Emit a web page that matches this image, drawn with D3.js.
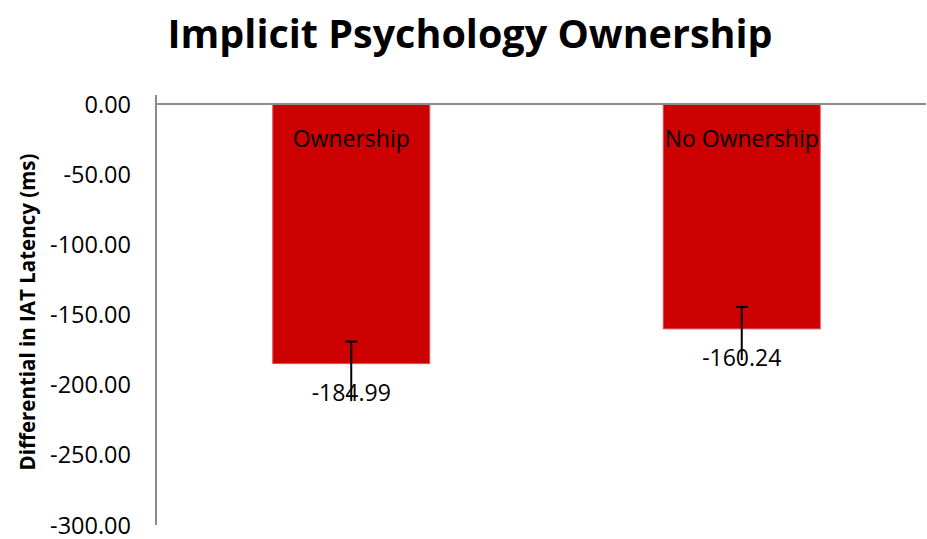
<!DOCTYPE html>
<html lang="en">
    <head>
        <meta charset="utf-8">
        <title>Implicit Psychology Ownership</title>
        <style type="text/css">
            body { margin: 0; background: #fff; }
            text { font-family: "Open Sans", sans-serif; fill: #000; }
            text.title { font-size: 39.5px; font-weight: bold; }
            text.tick { font-size: 23.5px; }
            text.AxisTitle { font-size: 20.5px; font-weight: bold; }
            text.barLabel { font-size: 23px; }
        </style>
    </head>
    <body>
        <script src="https://cdnjs.cloudflare.com/ajax/libs/d3/7.8.5/d3.min.js"></script>
        <script type="text/javascript">

          // chart data
          const categories = ["Ownership", "No Ownership"];
          const values = [-184.99, -160.24];
          const errUpper = [-169.3, -144.6];
          const errLower = [-211.7, -182.5];
          const yTicks = [0, -50, -100, -150, -200, -250, -300];

          const width = 927, height = 539;

          var svg = d3.select("body")
                      .append("svg")
                      .attr("width", width)
                      .attr("height", height);

          // scales
          var xScale = d3.scaleBand()
                         .domain(categories)
                         .range([156, 937]);
          const barWidth = xScale.bandwidth() * 0.402;

          var yScale = d3.scaleLinear()
                         .domain([-300, 0])
                         .range([525, 104]);

          // title
          svg.append("text")
             .attr("class", "title")
             .attr("x", 470)
             .attr("y", 48)
             .attr("text-anchor", "middle")
             .text("Implicit Psychology Ownership");

          // bars
          svg.selectAll("rect.bar")
             .data(values)
             .enter()
             .append("rect")
             .attr("class", "bar")
             .attr("x", function(d, i) { return xScale(categories[i]) + xScale.bandwidth() / 2 - barWidth / 2; })
             .attr("y", yScale(0))
             .attr("width", barWidth)
             .attr("height", function(d) { return yScale(d) - yScale(0); })
             .attr("fill", "#cc0000")
             .attr("stroke", "#e05050")
             .attr("stroke-width", 1);

          // y axis line
          svg.append("line")
             .attr("x1", 156).attr("x2", 156)
             .attr("y1", 95).attr("y2", yScale(-300))
             .attr("stroke", "#8c8c8c")
             .attr("stroke-width", 2);

          // zero line
          svg.append("line")
             .attr("x1", 156).attr("x2", 926)
             .attr("y1", yScale(0)).attr("y2", yScale(0))
             .attr("stroke", "#8c8c8c")
             .attr("stroke-width", 2);

          // tick labels
          svg.selectAll("text.tick")
             .data(yTicks)
             .enter()
             .append("text")
             .attr("class", "tick")
             .attr("x", 131)
             .attr("y", function(d) { return yScale(d) + 8.5; })
             .attr("text-anchor", "end")
             .text(function(d) { return d3.format(".2f")(d).replace("−", "-"); });

          // category labels inside bars
          svg.selectAll("text.cat")
             .data(categories)
             .enter()
             .append("text")
             .attr("class", "barLabel")
             .attr("x", function(d) { return xScale(d) + xScale.bandwidth() / 2; })
             .attr("y", yScale(0) + 43)
             .attr("text-anchor", "middle")
             .text(function(d) { return d; });

          // error bars
          var errG = svg.selectAll("g.err")
                        .data(values)
                        .enter()
                        .append("g")
                        .attr("class", "err");

          errG.append("line")
              .attr("x1", function(d, i) { return xScale(categories[i]) + xScale.bandwidth() / 2; })
              .attr("x2", function(d, i) { return xScale(categories[i]) + xScale.bandwidth() / 2; })
              .attr("y1", function(d, i) { return yScale(errUpper[i]); })
              .attr("y2", function(d, i) { return yScale(errLower[i]); })
              .attr("stroke", "#000")
              .attr("stroke-width", 2);

          errG.append("line")
              .attr("x1", function(d, i) { return xScale(categories[i]) + xScale.bandwidth() / 2 - 6; })
              .attr("x2", function(d, i) { return xScale(categories[i]) + xScale.bandwidth() / 2 + 6; })
              .attr("y1", function(d, i) { return yScale(errUpper[i]); })
              .attr("y2", function(d, i) { return yScale(errUpper[i]); })
              .attr("stroke", "#000")
              .attr("stroke-width", 2);

          // value labels below bars
          svg.selectAll("text.val")
             .data(values)
             .enter()
             .append("text")
             .attr("class", "barLabel")
             .attr("x", function(d, i) { return xScale(categories[i]) + xScale.bandwidth() / 2; })
             .attr("y", function(d) { return yScale(d) + 37.5; })
             .attr("text-anchor", "middle")
             .text(function(d) { return d3.format(".2f")(d).replace("−", "-"); });

          // y axis title
          svg.append("text")
             .attr("class", "AxisTitle")
             .attr("transform", "translate(35,312) rotate(-90)")
             .attr("text-anchor", "middle")
             .text("Differential in IAT Latency (ms)");
        </script>
    </body>
</html>
